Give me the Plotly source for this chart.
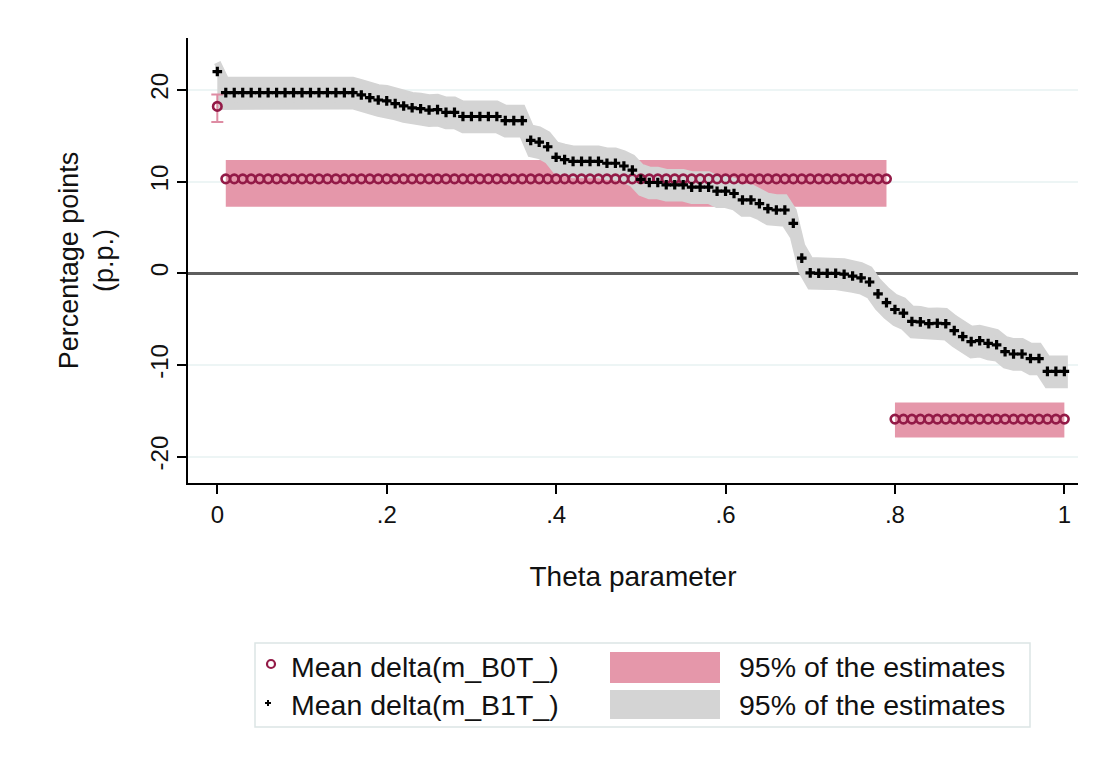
import plotly.graph_objects as go

# ---------------- data ----------------
theta = [
    0.00, 0.01, 0.02, 0.03, 0.04, 0.05, 0.06, 0.07, 0.08, 0.09,
    0.10, 0.11, 0.12, 0.13, 0.14, 0.15, 0.16, 0.17, 0.18, 0.19,
    0.20, 0.21, 0.22, 0.23, 0.24, 0.25, 0.26, 0.27, 0.28, 0.29,
    0.30, 0.31, 0.32, 0.33, 0.34, 0.35, 0.36, 0.37, 0.38, 0.39,
    0.40, 0.41, 0.42, 0.43, 0.44, 0.45, 0.46, 0.47, 0.48, 0.49,
    0.50, 0.51, 0.52, 0.53, 0.54, 0.55, 0.56, 0.57, 0.58, 0.59,
    0.60, 0.61, 0.62, 0.63, 0.64, 0.65, 0.66, 0.67, 0.68, 0.69,
    0.70, 0.71, 0.72, 0.73, 0.74, 0.75, 0.76, 0.77, 0.78, 0.79,
    0.80, 0.81, 0.82, 0.83, 0.84, 0.85, 0.86, 0.87, 0.88, 0.89,
    0.90, 0.91, 0.92, 0.93, 0.94, 0.95, 0.96, 0.97, 0.98, 0.99,
    1.00,
]

# Mean delta(m_B0T_) and its 95% range
b0_mean = [
    18.2, 10.3, 10.3, 10.3, 10.3, 10.3, 10.3, 10.3, 10.3, 10.3,
    10.3, 10.3, 10.3, 10.3, 10.3, 10.3, 10.3, 10.3, 10.3, 10.3,
    10.3, 10.3, 10.3, 10.3, 10.3, 10.3, 10.3, 10.3, 10.3, 10.3,
    10.3, 10.3, 10.3, 10.3, 10.3, 10.3, 10.3, 10.3, 10.3, 10.3,
    10.3, 10.3, 10.3, 10.3, 10.3, 10.3, 10.3, 10.3, 10.3, 10.3,
    10.3, 10.3, 10.3, 10.3, 10.3, 10.3, 10.3, 10.3, 10.3, 10.3,
    10.3, 10.3, 10.3, 10.3, 10.3, 10.3, 10.3, 10.3, 10.3, 10.3,
    10.3, 10.3, 10.3, 10.3, 10.3, 10.3, 10.3, 10.3, 10.3, 10.3,
    -15.9, -15.9, -15.9, -15.9, -15.9, -15.9, -15.9, -15.9, -15.9, -15.9,
    -15.9, -15.9, -15.9, -15.9, -15.9, -15.9, -15.9, -15.9, -15.9, -15.9,
    -15.9,
]
b0_lo = [
    16.5, 7.25, 7.25, 7.25, 7.25, 7.25, 7.25, 7.25, 7.25, 7.25,
    7.25, 7.25, 7.25, 7.25, 7.25, 7.25, 7.25, 7.25, 7.25, 7.25,
    7.25, 7.25, 7.25, 7.25, 7.25, 7.25, 7.25, 7.25, 7.25, 7.25,
    7.25, 7.25, 7.25, 7.25, 7.25, 7.25, 7.25, 7.25, 7.25, 7.25,
    7.25, 7.25, 7.25, 7.25, 7.25, 7.25, 7.25, 7.25, 7.25, 7.25,
    7.25, 7.25, 7.25, 7.25, 7.25, 7.25, 7.25, 7.25, 7.25, 7.25,
    7.25, 7.25, 7.25, 7.25, 7.25, 7.25, 7.25, 7.25, 7.25, 7.25,
    7.25, 7.25, 7.25, 7.25, 7.25, 7.25, 7.25, 7.25, 7.25, 7.25,
    -17.9, -17.9, -17.9, -17.9, -17.9, -17.9, -17.9, -17.9, -17.9, -17.9,
    -17.9, -17.9, -17.9, -17.9, -17.9, -17.9, -17.9, -17.9, -17.9, -17.9,
    -17.9,
]
b0_hi = [
    19.5, 12.35, 12.35, 12.35, 12.35, 12.35, 12.35, 12.35, 12.35, 12.35,
    12.35, 12.35, 12.35, 12.35, 12.35, 12.35, 12.35, 12.35, 12.35, 12.35,
    12.35, 12.35, 12.35, 12.35, 12.35, 12.35, 12.35, 12.35, 12.35, 12.35,
    12.35, 12.35, 12.35, 12.35, 12.35, 12.35, 12.35, 12.35, 12.35, 12.35,
    12.35, 12.35, 12.35, 12.35, 12.35, 12.35, 12.35, 12.35, 12.35, 12.35,
    12.35, 12.35, 12.35, 12.35, 12.35, 12.35, 12.35, 12.35, 12.35, 12.35,
    12.35, 12.35, 12.35, 12.35, 12.35, 12.35, 12.35, 12.35, 12.35, 12.35,
    12.35, 12.35, 12.35, 12.35, 12.35, 12.35, 12.35, 12.35, 12.35, 12.35,
    -14.1, -14.1, -14.1, -14.1, -14.1, -14.1, -14.1, -14.1, -14.1, -14.1,
    -14.1, -14.1, -14.1, -14.1, -14.1, -14.1, -14.1, -14.1, -14.1, -14.1,
    -14.1,
]
# index ranges of B0T drawn as shaded ranges (first point is drawn with a capped bar)
b0_band_segments = [(1, 79), (80, 100)]
b0_cap_index = 0

# Mean delta(m_B1T_) and its 95% range
b1_mean = [
    22.0, 19.7, 19.7, 19.7, 19.7, 19.7, 19.7, 19.7, 19.7, 19.7,
    19.7, 19.7, 19.7, 19.7, 19.7, 19.7, 19.7, 19.45, 19.15, 18.9,
    18.8, 18.5, 18.25, 18.05, 17.95, 17.8, 17.85, 17.55, 17.55, 17.1,
    17.1, 17.1, 17.1, 17.1, 16.65, 16.65, 16.65, 14.5, 14.3, 13.8,
    12.65, 12.4, 12.2, 12.2, 12.2, 12.2, 12.0, 12.0, 11.7, 11.25,
    10.25, 9.9, 9.9, 9.65, 9.65, 9.65, 9.4, 9.4, 9.4, 8.95,
    8.95, 8.7, 8.0, 8.0, 7.6, 7.05, 6.9, 6.9, 5.45, 1.65,
    0.05, 0.0, 0.0, 0.0, -0.1, -0.3, -0.5, -0.95, -2.25, -3.2,
    -3.95, -4.35, -5.25, -5.3, -5.5, -5.45, -5.5, -6.25, -6.9, -7.45,
    -7.35, -7.65, -7.8, -8.55, -8.8, -8.8, -9.3, -9.3, -10.7, -10.7,
    -10.7,
]
b1_hi = [
    23.0, 21.05, 21.05, 21.05, 21.05, 21.05, 21.05, 21.05, 21.05, 21.05,
    21.05, 21.05, 21.05, 21.05, 21.05, 21.05, 21.05, 20.8, 20.5, 20.25,
    20.15, 19.85, 19.6, 19.4, 19.3, 19.15, 19.2, 18.9, 18.9, 18.45,
    18.45, 18.45, 18.45, 18.45, 18.0, 18.0, 18.0, 15.85, 15.65, 15.15,
    14.0, 13.75, 13.55, 13.55, 13.55, 13.55, 13.35, 13.35, 13.05, 12.6,
    11.6, 11.25, 11.25, 11.0, 11.0, 11.0, 10.75, 10.75, 10.75, 10.3,
    10.3, 10.05, 9.35, 9.35, 8.95, 8.4, 8.25, 8.25, 6.8, 3.0,
    1.4, 1.35, 1.35, 1.35, 1.25, 1.05, 0.85, 0.4, -0.9, -1.85,
    -2.6, -3.0, -3.9, -3.95, -4.15, -4.1, -4.15, -4.9, -5.55, -6.1,
    -6.0, -6.3, -6.45, -7.2, -7.45, -7.45, -7.95, -7.95, -9.35, -9.35,
    -9.35,
]
b1_lo = [
    18.2, 18.25, 18.25, 18.25, 18.25, 18.25, 18.25, 18.25, 18.25, 18.25,
    18.25, 18.25, 18.25, 18.25, 18.25, 18.25, 18.25, 18.0, 17.7, 17.45,
    17.35, 17.05, 16.8, 16.6, 16.5, 16.35, 16.4, 16.1, 16.1, 15.65,
    15.65, 15.65, 15.65, 15.65, 15.2, 15.2, 15.2, 13.05, 12.85, 12.35,
    11.2, 10.95, 10.75, 10.75, 10.75, 10.75, 10.55, 10.55, 10.25, 9.8,
    8.8, 8.45, 8.45, 8.2, 8.2, 8.2, 7.95, 7.95, 7.95, 7.5,
    7.5, 7.25, 6.55, 6.55, 6.15, 5.6, 5.45, 5.45, 4.0, 0.2,
    -1.4, -1.45, -1.45, -1.45, -1.55, -1.75, -1.95, -2.4, -3.7, -4.65,
    -5.4, -5.8, -6.7, -6.75, -6.95, -6.9, -6.95, -7.7, -8.35, -8.9,
    -8.8, -9.1, -9.25, -10.0, -10.25, -10.25, -10.75, -10.75, -12.15, -12.15,
    -12.15,
]

x_tickvals = [0, 0.2, 0.4, 0.6, 0.8, 1.0]
x_ticktext = ["0", ".2", ".4", ".6", ".8", "1"]
y_tickvals = [-20, -10, 0, 10, 20]
y_ticktext = ["-20", "-10", "0", "10", "20"]

legend_labels = ["Mean delta(m_B0T_)", "Mean delta(m_B1T_)",
                 "95% of the estimates", "95% of the estimates"]

# ---------------- styling ----------------
FONT = "Liberation Sans, Arial, Helvetica, sans-serif"
PINK = "#E597AA"
GRAY = "#D4D4D4"
MAROON = "#931A47"
CAPPINK = "#DE8CA3"
TXT = "#111111"

W, H = 1120, 761
PL, PR, PT, PB = 188, 1078, 38, 483  # plot area in pixels

for arr in (b0_mean, b0_lo, b0_hi, b1_mean, b1_hi, b1_lo):
    assert len(arr) == len(theta)

fig = go.Figure()

# B0T shaded ranges
for a, b in b0_band_segments:
    xs = theta[a:b + 1] + theta[a:b + 1][::-1]
    ys = b0_hi[a:b + 1] + b0_lo[a:b + 1][::-1]
    fig.add_trace(go.Scatter(x=xs, y=ys, mode="lines", fill="toself",
                             fillcolor=PINK, line=dict(width=0, color=PINK),
                             hoverinfo="skip", showlegend=False))

# B1T shaded range
fig.add_trace(go.Scatter(x=theta + theta[::-1], y=b1_hi + b1_lo[::-1],
                         mode="lines", fill="toself", fillcolor=GRAY,
                         line=dict(width=7, color=GRAY),
                         hoverinfo="skip", showlegend=False))

# B0T capped range at first point
i0 = b0_cap_index
fig.add_trace(go.Scatter(
    x=[theta[i0]], y=[b0_mean[i0]], mode="markers",
    marker=dict(size=1, color="rgba(0,0,0,0)"),
    error_y=dict(type="data", symmetric=False,
                 array=[b0_hi[i0] - b0_mean[i0]],
                 arrayminus=[b0_mean[i0] - b0_lo[i0]],
                 color=CAPPINK, thickness=2, width=6),
    hoverinfo="skip", showlegend=False))

# B0T markers
fig.add_trace(go.Scatter(x=theta, y=b0_mean, mode="markers",
                         name=legend_labels[0],
                         marker=dict(symbol="circle-open", size=8.5, color=MAROON,
                                     line=dict(width=2.6, color=MAROON)),
                         showlegend=False))

# B1T markers
fig.add_trace(go.Scatter(x=theta, y=b1_mean, mode="markers",
                         name=legend_labels[1],
                         marker=dict(symbol="cross", size=8, color="black",
                                     line=dict(width=0)),
                         showlegend=False))

# ---------------- custom legend (Stata style) ----------------
def px(xpix):
    return (xpix - PL) / (PR - PL)


def py(ypix):
    return (PB - ypix) / (PB - PT)


shapes = []
annotations = []
shapes.append(dict(type="rect", xref="paper", yref="paper",
                   x0=px(255), x1=px(1030), y0=py(727), y1=py(643),
                   line=dict(color="#DCE5E5", width=1.5), fillcolor="white",
                   layer="below"))
# row 1
shapes.append(dict(type="circle", xref="paper", yref="paper",
                   x0=px(267), x1=px(275), y0=py(668), y1=py(660),
                   line=dict(color=MAROON, width=2.2), fillcolor="white"))
shapes.append(dict(type="rect", xref="paper", yref="paper",
                   x0=px(610), x1=px(720), y0=py(683), y1=py(652),
                   line=dict(width=0), fillcolor=PINK))
# row 2
shapes.append(dict(type="line", xref="paper", yref="paper",
                   x0=px(265), x1=px(271), y0=py(703), y1=py(703),
                   line=dict(color="black", width=2)))
shapes.append(dict(type="line", xref="paper", yref="paper",
                   x0=px(268), x1=px(268), y0=py(700), y1=py(706),
                   line=dict(color="black", width=2)))
shapes.append(dict(type="rect", xref="paper", yref="paper",
                   x0=px(610), x1=px(720), y0=py(719), y1=py(690),
                   line=dict(width=0), fillcolor=GRAY))

for (txt, xl, yc) in [(legend_labels[0], 289, 667), (legend_labels[2], 737, 667),
                      (legend_labels[1], 289, 705), (legend_labels[3], 737, 705)]:
    annotations.append(dict(text=txt, xref="paper", yref="paper",
                            x=px(xl), y=py(yc), xanchor="left", yanchor="middle",
                            showarrow=False, font=dict(family=FONT, size=28.5, color=TXT)))

fig.update_layout(
    width=W, height=H,
    margin=dict(l=PL, r=W - PR, t=PT, b=H - PB, autoexpand=False),
    paper_bgcolor="white", plot_bgcolor="white",
    showlegend=False,
    font=dict(family=FONT, color=TXT),
    shapes=shapes, annotations=annotations,
    xaxis=dict(range=[-0.0346, 1.0161], tickvals=x_tickvals, ticktext=x_ticktext,
               ticks="outside", ticklen=9, tickwidth=1.5, tickcolor="black",
               showline=True, linecolor="black", linewidth=1.5,
               showgrid=False, zeroline=False,
               tickfont=dict(family=FONT, size=24, color=TXT),
               title=dict(text="Theta parameter", standoff=40,
                          font=dict(family=FONT, size=28, color=TXT))),
    yaxis=dict(range=[-22.87, 25.66], tickvals=y_tickvals, ticktext=y_ticktext,
               tickangle=-90,
               ticks="outside", ticklen=9, tickwidth=1.5, tickcolor="black",
               showline=True, linecolor="black", linewidth=1.5,
               showgrid=True, gridcolor="#EDF5F5", gridwidth=1.5,
               zeroline=True, zerolinecolor="#5E5E5E", zerolinewidth=2.5,
               tickfont=dict(family=FONT, size=24, color=TXT),
               title=dict(text="Percentage points<br>(p.p.)", standoff=24,
                          font=dict(family=FONT, size=27, color=TXT))),
)

fig.write_html("out.html")
